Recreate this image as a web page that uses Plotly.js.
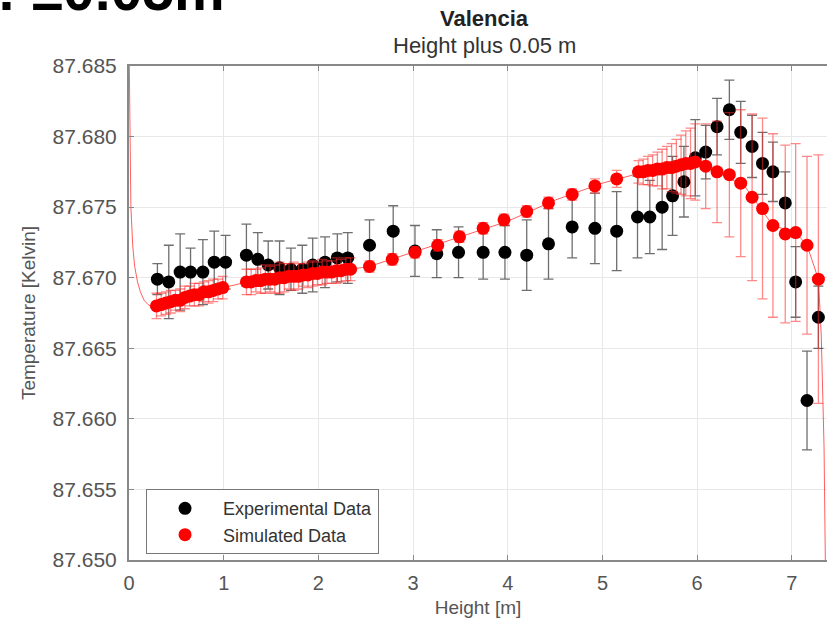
<!DOCTYPE html>
<html><head><meta charset="utf-8">
<script src="https://cdn.plot.ly/plotly-3.0.1.min.js"></script>
<style>html,body{margin:0;padding:0;overflow:hidden;background:#fff}</style>
</head><body><div id="chart" style="width:827px;height:630px"></div>
<script>
// Experimental data (black)
const expHeight = [0.30,0.42,0.54,0.65,0.78,0.90,1.02,
  1.24,1.36,1.47,1.59,1.71,1.83,1.94,2.07,2.20,2.31,
  2.54,2.79,3.02,3.25,3.48,3.74,3.97,4.20,4.43,4.68,4.92,
  5.15,5.37,5.50,5.63,5.74,5.86,5.98,6.09,6.21,6.34,6.46,6.58,6.69,6.80,6.93,7.04,7.16,7.28];
const expTemp = [87.6699,87.6697,87.6704,87.6704,87.6704,87.6711,87.6711,
  87.6716,87.6713,87.6709,87.6707,87.6706,87.6706,87.6709,87.6711,87.6714,87.6714,
  87.6723,87.6733,87.6719,87.6717,87.6718,87.6718,87.6718,87.6716,87.6724,87.6736,87.6735,
  87.6733,87.6743,87.6743,87.6750,87.6758,87.6768,87.6785,87.6789,87.6807,87.6819,87.6803,87.6793,87.6781,87.6775,87.6753,87.6697,87.6613,87.6672];
const expErr = [0.0011,0.0026,0.0027,0.0017,0.0023,0.0022,0.0019,
  0.0022,0.0019,0.0017,0.0019,0.0015,0.0017,0.0019,0.0018,0.0017,0.0018,
  0.0018,0.0018,0.0018,0.0017,0.0018,0.0019,0.0019,0.0025,0.0025,0.0022,0.0025,
  0.0028,0.0029,0.0026,0.0030,0.0028,0.0025,0.0027,0.0019,0.0020,0.0021,0.0022,0.0022,0.0022,0.0021,0.0022,0.0025,0.0035,0.0022];

// Simulated data (red)
const simHeight = [0.29,0.34,0.39,0.44,0.49,0.54,0.59,0.64,0.69,0.74,0.79,0.84,0.89,0.94,0.99,
  1.24,1.29,1.34,1.39,1.44,1.49,1.54,1.59,1.64,1.69,1.74,1.79,1.84,1.89,1.94,1.99,2.04,2.09,2.14,2.19,2.24,2.29,2.34,
  2.54,2.78,3.02,3.26,3.49,3.74,3.96,4.20,4.43,4.68,4.92,5.15,
  5.38,5.43,5.48,5.53,5.58,5.63,5.68,5.73,5.78,5.83,5.88,5.93,5.98,
  6.09,6.21,6.34,6.46,6.58,6.69,6.80,6.93,7.04,7.16,7.28];
const simTemp = [87.6680,87.6681,87.6682,87.6683,87.6684,87.6684,87.6686,87.6687,87.6688,87.6688,87.6690,87.6690,87.6691,87.6692,87.6693,
  87.6697,87.6697,87.6698,87.6698,87.6699,87.6699,87.6699,87.6700,87.6700,87.6701,87.6701,87.6701,87.6702,87.6702,87.6703,87.6703,87.6704,87.6704,87.6704,87.6705,87.6705,87.6706,87.6706,
  87.6708,87.6713,87.6718,87.6723,87.6729,87.6735,87.6741,87.6747,87.6753,87.6759,87.6765,87.6770,
  87.6775,87.6775,87.6776,87.6776,87.6777,87.6777,87.6778,87.6778,87.6779,87.6780,87.6781,87.6781,87.6782,
  87.6779,87.6775,87.6773,87.6767,87.6757,87.6749,87.6737,87.6731,87.6732,87.6723,87.6699];
const simErr = [0.0009,0.0008,0.0008,0.0008,0.0007,0.0008,0.0008,0.0007,0.0008,0.0008,0.0007,0.0008,0.0008,0.0007,0.0008,
  0.0009,0.0009,0.0008,0.0009,0.0010,0.0009,0.0010,0.0011,0.0010,0.0009,0.0010,0.0009,0.0008,0.0009,0.0009,0.0008,0.0009,0.0008,0.0008,0.0009,0.0008,0.0008,0.0008,
  0.0004,0.0004,0.0004,0.0004,0.0004,0.0004,0.0004,0.0004,0.0004,0.0004,0.0005,0.0006,
  0.0008,0.0009,0.0010,0.0011,0.0012,0.0014,0.0015,0.0017,0.0019,0.0021,0.0023,0.0025,0.0027,
  0.0030,0.0036,0.0044,0.0052,0.0059,0.0064,0.0065,0.0063,0.0063,0.0063,0.0088];

// Simulation model curve (thin red line)
const modelHeight = [0,0.005,0.01,0.02,0.04,0.06,0.09,0.12,0.16,0.20,0.25,0.30,0.50,0.75,1.00,1.25,1.50,2.00,2.34,2.54,3.00,3.50,4.00,4.50,5.00,5.50,5.98,6.20,6.50,6.80,7.04,7.16,7.28,7.31,7.34,7.37];
const modelTemp = [87.6870,87.6830,87.6780,87.6750,87.6722,87.6708,87.6697,87.6690,87.6684,87.6681,87.6679,87.6680,87.6684,87.6688,87.6693,87.6697,87.6699,87.6703,87.6706,87.6708,87.6718,87.6729,87.6740,87.6755,87.6767,87.6776,87.6782,87.6775,87.6765,87.6737,87.6732,87.6723,87.6699,87.6660,87.6580,87.6400];

const xTickVals = [0,1,2,3,4,5,6,7];
const yTickVals = [87.650,87.655,87.660,87.665,87.670,87.675,87.680,87.685];
const yTickText = ['87.650','87.655','87.660','87.665','87.670','87.675','87.680','87.685'];

const FONT = 'Liberation Sans, Arial, sans-serif';

const traces = [
  {x: modelHeight, y: modelTemp, type: 'scatter', mode: 'lines', showlegend: false,
   line: {color: 'rgba(255,40,40,0.75)', width: 1}, hoverinfo: 'skip'},
  {x: expHeight, y: expTemp, type: 'scatter', mode: 'markers', name: 'Experimental Data',
   marker: {color: '#000', size: 13},
   error_y: {type: 'data', array: expErr, visible: true, color: 'rgba(50,50,50,0.7)', thickness: 1.3, width: 5}},
  {x: simHeight, y: simTemp, type: 'scatter', mode: 'markers', name: 'Simulated Data',
   marker: {color: '#ff0000', size: 13},
   error_y: {type: 'data', array: simErr, visible: true, color: 'rgba(255,40,40,0.55)', thickness: 1.3, width: 5}}
];

const layout = {
  width: 827, height: 630,
  margin: {l: 129, r: 0, t: 66, b: 70},
  paper_bgcolor: '#fff', plot_bgcolor: '#fff',
  font: {family: FONT, color: '#444'},
  showlegend: true,
  xaxis: {
    range: [0, 7.371], tickvals: xTickVals, ticktext: xTickVals.map(String),
    showgrid: true, gridcolor: '#e8e8e8', gridwidth: 1,
    zeroline: false, showline: true, linecolor: '#888', linewidth: 2, mirror: 'ticks',
    ticks: 'inside', ticklen: 5, tickcolor: '#888', tickwidth: 1,
    tickfont: {family: FONT, size: 20, color: '#555'}, ticklabelstandoff: 4,
    title: {text: 'Height [m]', font: {family: FONT, size: 19, color: '#555'}, standoff: 8}
  },
  yaxis: {
    range: [87.650, 87.685], tickvals: yTickVals, ticktext: yTickText,
    showgrid: true, gridcolor: '#e8e8e8', gridwidth: 1,
    zeroline: false, showline: true, linecolor: '#888', linewidth: 2, mirror: false,
    ticks: 'inside', ticklen: 5, tickcolor: '#888', tickwidth: 1,
    tickfont: {family: FONT, size: 21, color: '#555'}, ticklabelstandoff: 6,
    title: {text: 'Temperature [Kelvin]', font: {family: FONT, size: 19, color: '#555'}, standoff: 12}
  },
  legend: {
    x: 0.0244, y: 0.1435, xanchor: 'left', yanchor: 'top',
    bgcolor: '#fff', bordercolor: '#777', borderwidth: 1,
    font: {family: FONT, size: 18, color: '#333'},
    itemwidth: 66, tracegroupgap: 0
  },
  annotations: [
    {text: '<b>Valencia</b>', xref: 'paper', yref: 'paper', x: 0.509, y: 1.097,
     xanchor: 'center', yanchor: 'middle', showarrow: false,
     font: {family: FONT, size: 22, color: '#222'}},
    {text: 'Height plus 0.05 m', xref: 'paper', yref: 'paper', x: 0.509, y: 1.0405,
     xanchor: 'center', yanchor: 'middle', showarrow: false,
     font: {family: FONT, size: 22, color: '#333'}},
    {text: '<b>: ±0.05m</b>', xref: 'paper', yref: 'paper',
     x: -0.192, y: 1.085, xanchor: 'left', yanchor: 'bottom',
     showarrow: false, font: {family: FONT, size: 57, color: '#000'}}
  ]
};

Plotly.newPlot('chart', traces, layout, {displayModeBar: false, responsive: false});
</script>
</body></html>
